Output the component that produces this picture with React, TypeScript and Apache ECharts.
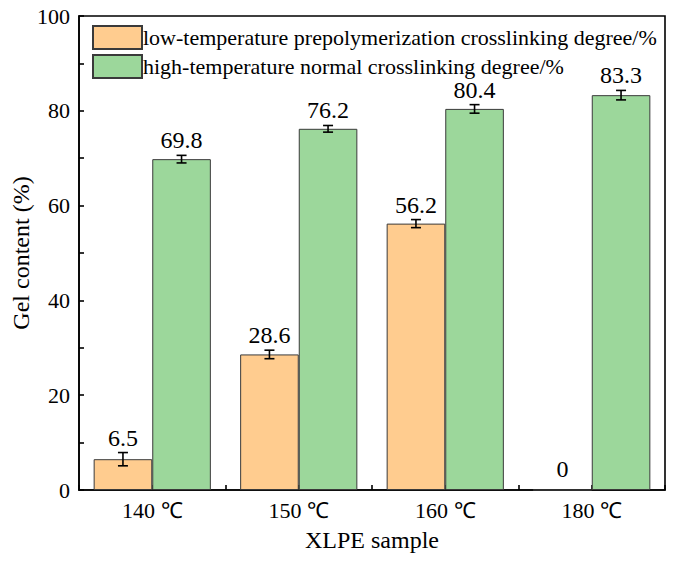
import React, { useEffect, useRef } from "react";
import * as echarts from "echarts";

const categories = ["140 ℃", "150 ℃", "160 ℃", "180 ℃"];
const lowTempValues = [6.5, 28.6, 56.2, 0];
const lowTempErrors = [1.4, 0.9, 0.85, 0];
const highTempValues = [69.8, 76.2, 80.4, 83.3];
const highTempErrors = [0.8, 0.7, 0.9, 1.0];
const seriesNames = [
  "low-temperature prepolymerization crosslinking degree/%",
  "high-temperature normal crosslinking degree/%",
];

const FONT = "Liberation Serif";
const ORANGE = "#FFCC8F";
const GREEN = "#9CD79B";
const EDGE = "#3a3a3a";

// Error bars and value labels for one bar series; `side` is -1 for the left bar, +1 for the right bar.
function errorSeries(values: number[], errors: number[], side: number) {
  return {
    type: "custom",
    xAxisIndex: 0,
    yAxisIndex: 0,
    z: 10,
    silent: true,
    data: values.map((v, i) => [i, v, errors[i]]),
    renderItem: (params: any, api: any) => {
      const idx = api.value(0);
      const v = api.value(1);
      const e = api.value(2);
      const band = api.size([1, 0])[0];
      const barW = band * 0.4;
      const base = api.coord([idx, v]);
      const cx = base[0] + side * barW / 2;
      const top = api.coord([idx, v + e])[1];
      const bot = api.coord([idx, v - e])[1];
      const cap = 5;
      const children: any[] = [];
      if (e > 0) {
        const st = { stroke: "#000", lineWidth: 1.6 };
        children.push(
          { type: "line", shape: { x1: cx, y1: top, x2: cx, y2: bot }, style: st },
          { type: "line", shape: { x1: cx - cap, y1: top, x2: cx + cap, y2: top }, style: st },
          { type: "line", shape: { x1: cx - cap, y1: bot, x2: cx + cap, y2: bot }, style: st }
        );
      }
      children.push({
        type: "text",
        style: {
          x: cx,
          y: (e > 0 ? top : base[1] - 6) - 3,
          text: String(v),
          fill: "#000",
          fontFamily: FONT,
          fontSize: 24,
          align: "center",
          verticalAlign: "bottom",
        },
      });
      return { type: "group", children };
    },
  };
}

export default function App() {
  const ref = useRef<HTMLDivElement>(null);

  useEffect(() => {
    if (!ref.current) return;
    const chart = echarts.init(ref.current, undefined, { renderer: "svg" });
    const axisLine = { show: true, lineStyle: { color: "#000", width: 1.6 } };
    chart.setOption({
      animation: false,
      backgroundColor: "#fff",
      textStyle: { fontFamily: FONT },
      grid: {
        left: 79,
        right: 10,
        top: 16,
        bottom: 72,
        containLabel: false,
        outerBoundsMode: "none",
        show: true,
        borderColor: "#000",
        borderWidth: 1.6,
        backgroundColor: "transparent",
      },
      legend: {
        orient: "vertical",
        left: 87,
        top: 20,
        itemWidth: 49,
        itemHeight: 23,
        itemGap: 4,
        icon: "rect",
        textStyle: { fontFamily: FONT, fontSize: 22, color: "#000", padding: [0, 0, 0, -4] },
        data: seriesNames,
      },
      xAxis: [
        {
          type: "category",
          data: categories,
          position: "bottom",
          axisLine,
          axisTick: { show: true, inside: true, length: 5, alignWithLabel: false, lineStyle: { color: "#000", width: 1.6 } },
          axisLabel: { fontFamily: FONT, fontSize: 22, color: "#000", margin: 9 },
          name: "XLPE sample",
          nameLocation: "middle",
          nameGap: 38,
          nameTextStyle: { fontFamily: FONT, fontSize: 24, color: "#000" },
        },
        {
          type: "category",
          data: categories,
          position: "bottom",
          axisLine: { show: false },
          axisTick: { show: true, inside: true, length: 5, alignWithLabel: true, lineStyle: { color: "#000", width: 1.6 } },
          axisLabel: { show: false },
        },
      ],
      yAxis: {
        type: "value",
        min: 0,
        max: 100,
        interval: 20,
        axisLine,
        axisTick: { show: true, inside: true, length: 5, lineStyle: { color: "#000", width: 1.6 } },
        minorTick: { show: true, splitNumber: 2, length: 5, lineStyle: { color: "#000", width: 1.6 } },
        splitLine: { show: false },
        axisLabel: { fontFamily: FONT, fontSize: 22, color: "#000", margin: 9 },
        name: "Gel content (%)",
        nameLocation: "middle",
        nameMoveOverlap: false,
        nameGap: 46,
        nameTextStyle: { fontFamily: FONT, fontSize: 24, color: "#000" },
      },
      series: [
        {
          name: seriesNames[0],
          type: "bar",
          data: lowTempValues,
          barWidth: "40%",
          barGap: "0%",
          itemStyle: { color: ORANGE, borderColor: EDGE, borderWidth: 1 },
        },
        {
          name: seriesNames[1],
          type: "bar",
          data: highTempValues,
          barWidth: "40%",
          barGap: "0%",
          itemStyle: { color: GREEN, borderColor: EDGE, borderWidth: 1 },
        },
        errorSeries(lowTempValues, lowTempErrors, -1),
        errorSeries(highTempValues, highTempErrors, 1),
      ],
    });
    return () => chart.dispose();
  }, []);

  return (
    <div
      ref={ref}
      style={{ position: "fixed", left: 0, top: 0, width: 675, height: 562, background: "#fff" }}
    />
  );
}
